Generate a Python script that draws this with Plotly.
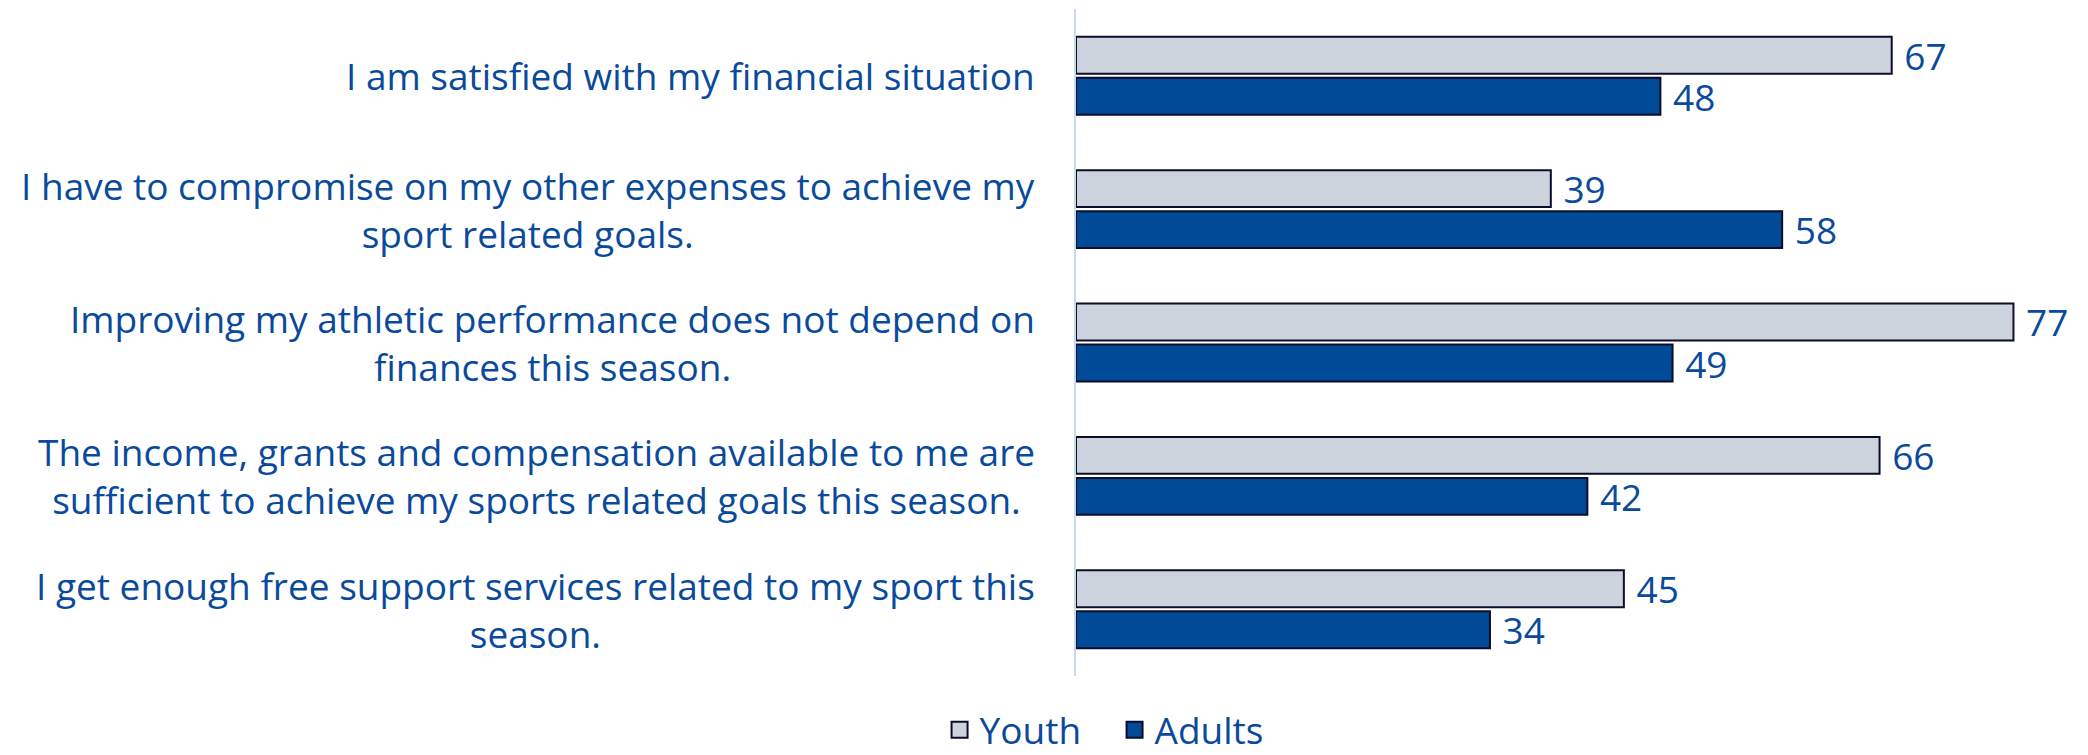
import plotly.graph_objects as go

C_YOUTH = '#cdd3dc'
C_ADULT = '#004a98'
C_EDGE = '#0d0d2b'
C_TEXT = '#0a4a9c'
C_AXIS = '#c6dbf2'

statements = [
    'I am satisfied with my financial situation',
    'I have to compromise on my other expenses to achieve my<br>sport related goals.',
    'Improving my athletic performance does not depend on<br>finances this season.',
    'The income, grants and compensation available to me are<br>sufficient to achieve my sports related goals this season.',
    'I get enough free support services related to my sport this<br>season.',
]
groups = ['Youth', 'Adults']
youth = [67, 39, 77, 66, 45]
adults = [48, 58, 49, 42, 34]

FONT = 'Open Sans, Roboto, sans-serif'
FS = 37

# page body has an 8px margin, so the figure is shifted by 8px;
# the figure runs a bit past the window bottom so the legend isn't clipped
fig = go.Figure()
for name, vals, color in zip(groups, [youth, adults], [C_YOUTH, C_ADULT]):
    fig.add_trace(go.Bar(
        name=name, y=statements, x=vals, orientation='h',
        marker=dict(color=color, line=dict(color=C_EDGE, width=2)),
        text=['\u00a0' + str(v) for v in vals], textposition='outside',
        constraintext='none',
        textfont=dict(size=FS, color=C_TEXT, family=FONT),
        cliponaxis=False, showlegend=False,
    ))
    # legend entries with bigger square swatches
    fig.add_trace(go.Scatter(
        name=name, x=[None], y=[None], mode='markers',
        marker=dict(symbol='square', size=24, color=color,
                    line=dict(color=C_EDGE, width=2)),
    ))

for s in statements:
    fig.add_annotation(
        x=0, xref='paper', xshift=-39, y=s, yref='y', text=s, showarrow=False,
        xanchor='right', yanchor='middle', align='center',
        font=dict(size=FS, color=C_TEXT, family=FONT),
    )

fig.update_layout(
    width=2080, height=765,
    paper_bgcolor='white', plot_bgcolor='white',
    font=dict(family=FONT, color=C_TEXT, size=FS),
    margin=dict(l=1068, r=10, t=1, b=97),
    barmode='group', bargap=0.385, bargroupgap=0.1,
    xaxis=dict(range=[0, 82.3], showgrid=False, showticklabels=False,
               zeroline=False, showline=False),
    yaxis=dict(autorange='reversed', showticklabels=False, showgrid=False,
               showline=True, linecolor=C_AXIS, linewidth=2, ticks=''),
    legend=dict(orientation='h', xref='container', x=0.532, xanchor='center',
                yref='container', y=0.056, yanchor='middle',
                entrywidth=130,
                font=dict(size=FS, color=C_TEXT, family=FONT),
                bgcolor='rgba(0,0,0,0)'),
)

fig.write_html('out.html')
